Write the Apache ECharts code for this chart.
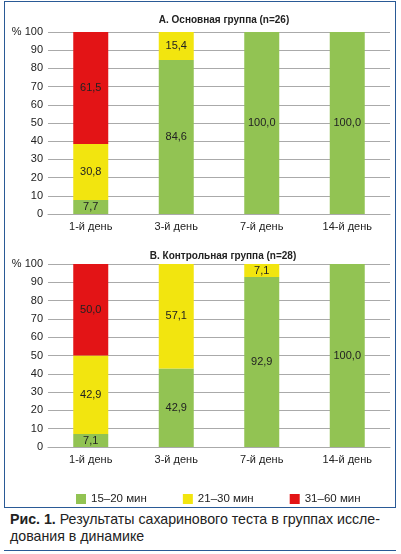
<!DOCTYPE html>
<html><head><meta charset="utf-8">
<script src="https://cdn.jsdelivr.net/npm/echarts@6/dist/echarts.min.js"></script>
<style>
html,body{margin:0;padding:0;background:#fff;width:401px;height:554px;overflow:hidden;}
#frame{position:absolute;left:4px;top:1px;width:390px;height:505px;border:1.5px solid #2a5a96;box-sizing:content-box;}
#chart{position:absolute;left:0;top:0;width:401px;height:510px;}
#caption{position:absolute;left:10px;top:511px;width:390px;font-family:"Liberation Sans",Arial,sans-serif;font-size:14.2px;line-height:17px;color:#222;white-space:nowrap;}
#rule{position:absolute;left:4px;top:550px;width:392px;height:0;border-top:1.5px solid #2a5a96;}
</style></head>
<body>
<div id="frame"></div>
<div id="chart"></div>
<div id="caption"><b>Рис. 1.</b> Результаты сахаринового теста в группах иссле-<br>дования в динамике</div>
<div id="rule"></div>
<script>
const categories = ['1-й день', '3-й день', '7-й день', '14-й день'];
const seriesNames = ['15–20 мин', '21–30 мин', '31–60 мин'];
const titleA = 'А. Основная группа (n=26)';
const titleB = 'В. Контрольная группа (n=28)';
const groupA_15_20 = [7.7, 84.6, 100.0, 100.0];
const groupA_21_30 = [30.8, 15.4, 0, 0];
const groupA_31_60 = [61.5, 0, 0, 0];
const groupB_15_20 = [7.1, 42.9, 92.9, 100.0];
const groupB_21_30 = [42.9, 57.1, 7.1, 0];
const groupB_31_60 = [50.0, 0, 0, 0];
const yTicks = [0, 10, 20, 30, 40, 50, 60, 70, 80, 90, 100];

const colors = ['#92c353', '#f2e50f', '#e31416'];
const font = '"Liberation Sans", Arial, sans-serif';

const chart = echarts.init(document.getElementById('chart'), null, {renderer: 'canvas'});

function yAxis(gi) {
  return {
    gridIndex: gi, type: 'value', min: yTicks[0], max: yTicks[yTicks.length - 1], interval: 10,
    axisLine: {show: false}, axisTick: {show: false},
    axisLabel: {color: '#222', fontFamily: font, fontSize: 11, margin: 5,
      formatter: v => v === 100 ? '% 100' : String(v)},
    splitLine: {lineStyle: {color: '#aaaaaa', width: 1}}
  };
}
function xAxis(gi) {
  return {
    gridIndex: gi, type: 'category', data: categories,
    axisLine: {lineStyle: {color: '#aaaaaa', width: 1}}, axisTick: {show: false},
    axisLabel: {color: '#222', fontFamily: font, fontSize: 11, margin: 7}
  };
}
const fmt = p => p.value ? p.value.toFixed(1).replace('.', ',') : '';
function bar(name, data, gi, color) {
  return {
    name, type: 'bar', stack: 's' + gi, xAxisIndex: gi, yAxisIndex: gi,
    data, barWidth: 35, itemStyle: {color},
    label: {show: true, position: 'inside', formatter: fmt, color: '#222',
      fontFamily: font, fontSize: 11},
    emphasis: {disabled: true}
  };
}

chart.setOption({
  animation: false,
  title: [
    {text: titleA, left: 219, top: 10, textAlign: 'center',
      textStyle: {fontFamily: font, fontWeight: 'bold', fontSize: 10, color: '#222'}},
    {text: titleB, left: 218, top: 246, textAlign: 'center',
      textStyle: {fontFamily: font, fontWeight: 'bold', fontSize: 10, color: '#222'}}
  ],
  grid: [
    {left: 48, right: 11, top: 32, height: 182},
    {left: 48, right: 11, top: 264, height: 183}
  ],
  xAxis: [xAxis(0), xAxis(1)],
  yAxis: [yAxis(0), yAxis(1)],
  legend: {
    data: seriesNames, left: 71, top: 488, itemWidth: 10, itemHeight: 10, itemGap: 36,
    icon: 'rect', textStyle: {fontFamily: font, fontSize: 11.5, color: '#222'},
    selectedMode: false
  },
  series: [
    bar(seriesNames[0], groupA_15_20, 0, colors[0]),
    bar(seriesNames[1], groupA_21_30, 0, colors[1]),
    bar(seriesNames[2], groupA_31_60, 0, colors[2]),
    bar(seriesNames[0], groupB_15_20, 1, colors[0]),
    bar(seriesNames[1], groupB_21_30, 1, colors[1]),
    bar(seriesNames[2], groupB_31_60, 1, colors[2])
  ]
});
</script>
</body></html>
